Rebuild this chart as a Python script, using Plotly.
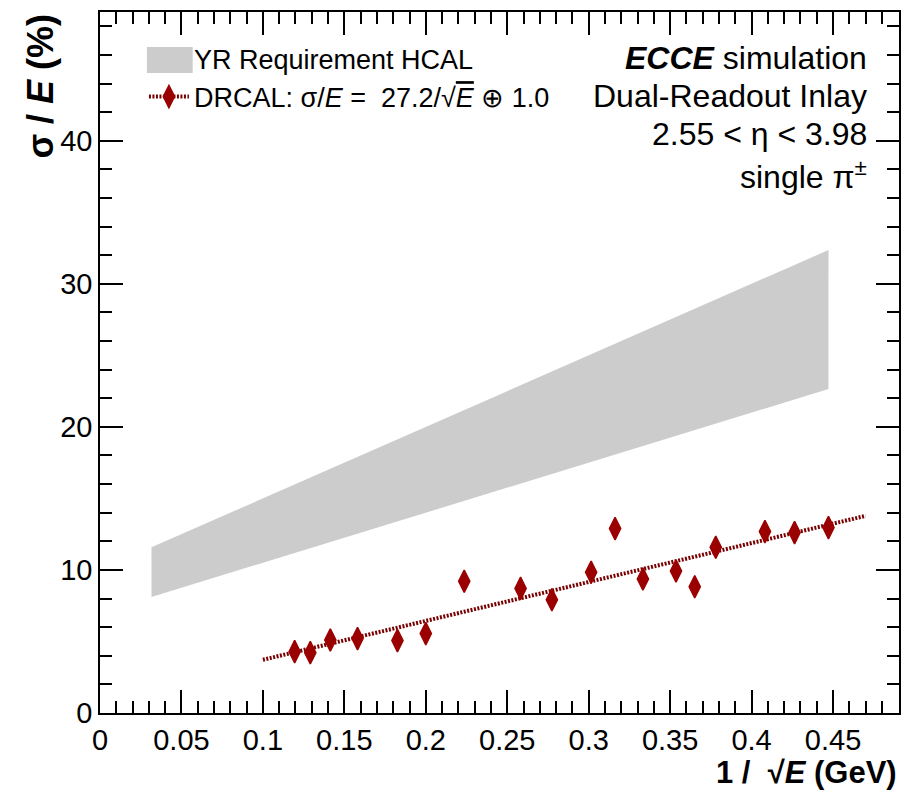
import plotly.graph_objects as go

# --- data ---
inv_sqrt_e = [0.1195, 0.1291, 0.1414, 0.1581, 0.1826, 0.2000, 0.2236, 0.2582, 0.2774,
              0.3015, 0.3162, 0.3333, 0.3536, 0.3651, 0.3780, 0.4082, 0.4264, 0.4472]
resolution = [4.29, 4.22, 5.10, 5.20, 5.06, 5.55, 9.21, 8.71, 7.92,
              9.84, 12.89, 9.37, 9.93, 8.83, 11.59, 12.68, 12.61, 12.96]

fit_x = [0.10, 0.47]
fit_y = [3.72, 13.78]

band_x = [0.0316, 0.4472]
band_upper = [11.58, 32.36]
band_lower = [8.11, 22.65]

x_tickvals = [0, 0.05, 0.1, 0.15, 0.2, 0.25, 0.3, 0.35, 0.4, 0.45]
x_ticktext = ["0", "0.05", "0.1", "0.15", "0.2", "0.25", "0.3", "0.35", "0.4", "0.45"]
y_tickvals = [0, 10, 20, 30, 40]
y_ticktext = ["0", "10", "20", "30", "40"]

FONT = "Liberation Sans, Arial, Helvetica, sans-serif"
RED = "#9b0000"
LINE_RED = "#7a0000"
BAND = "#cccccc"
SQRT_E = "√<span style='text-decoration:overline'><i>E</i></span>"

fig = go.Figure()

# YR requirement band
fig.add_trace(go.Scatter(
    x=band_x + band_x[::-1],
    y=band_upper + band_lower[::-1],
    fill="toself", mode="lines",
    line=dict(width=0, color=BAND),
    fillcolor=BAND,
    name="YR Requirement HCAL",
))

# fit line
fig.add_trace(go.Scatter(
    x=fit_x, y=fit_y, mode="lines",
    line=dict(color=LINE_RED, width=4, dash="2px,1.5px"),
    showlegend=False,
))

# data points
fig.add_trace(go.Scatter(
    x=inv_sqrt_e, y=resolution, mode="markers",
    marker=dict(symbol="diamond-tall", size=16, color=RED,
                line=dict(color=RED, width=1.5)),
    showlegend=False,
))

# legend entry for DRCAL (line + marker)
fig.add_trace(go.Scatter(
    x=[None], y=[None], mode="lines+markers",
    line=dict(color=LINE_RED, width=4, dash="2px,1.5px"),
    marker=dict(symbol="diamond-tall", size=16, color=RED,
                line=dict(color=RED, width=1.5)),
    name="DRCAL: σ/<i>E</i> =  27.2/" + SQRT_E + " ⊕ 1.0",
))

axis_common = dict(
    showline=True, linecolor="black", linewidth=1.5, mirror="allticks",
    ticks="inside", tickcolor="black", tickwidth=1.5, ticklen=23,
    showgrid=False, zeroline=False,
)

fig.update_xaxes(
    range=[0, 0.4905], tickvals=x_tickvals, ticktext=x_ticktext,
    tickfont=dict(family=FONT, size=29, color="black"),
    minor=dict(ticks="inside", ticklen=12, dtick=0.01, tickcolor="black", tickwidth=1.5, showgrid=False),
    **axis_common,
)
fig.update_yaxes(
    range=[0, 49.0], tickvals=y_tickvals, ticktext=y_ticktext,
    tickfont=dict(family=FONT, size=29, color="black"),
    minor=dict(ticks="inside", ticklen=12, dtick=2, tickcolor="black", tickwidth=1.5, showgrid=False),
    **axis_common,
)

annotations = [
    dict(text="<b>1 /  √<i>E</i> (GeV)</b>", x=1.0, y=-0.1125, xanchor="right", yanchor="bottom",
         font=dict(size=31)),
    dict(text="<b>σ / <i>E</i> (%)</b>", x=-0.075, y=1.0, xanchor="center", yanchor="top",
         textangle=-90, font=dict(size=36)),
    dict(text="<b><i>ECCE</i></b> simulation", x=0.962, y=0.934, xanchor="right", yanchor="middle",
         font=dict(size=32)),
    dict(text="Dual-Readout Inlay", x=0.962, y=0.880, xanchor="right", yanchor="middle",
         font=dict(size=32)),
    dict(text="2.55 < η < 3.98", x=0.962, y=0.826, xanchor="right", yanchor="middle",
         font=dict(size=32)),
    dict(text="single π<sup>±</sup>", x=0.962, y=0.768, xanchor="right", yanchor="middle",
         font=dict(size=32)),
]
for a in annotations:
    a.update(xref="paper", yref="paper", showarrow=False)
    a["font"].update(family=FONT, color="black")

fig.update_layout(
    width=910, height=793,
    margin=dict(l=100, r=9, t=12, b=80),
    paper_bgcolor="white", plot_bgcolor="white",
    font=dict(family=FONT, color="black"),
    annotations=annotations,
    # legend swatch box for the band entry
    shapes=[dict(type="rect", xref="paper", yref="paper",
                 x0=0.0587, x1=0.116, y0=0.913, y1=0.950,
                 fillcolor=BAND, line=dict(width=0), layer="above")],
    legend=dict(
        x=0.055, y=0.968, xanchor="left", yanchor="top",
        bgcolor="rgba(0,0,0,0)", font=dict(family=FONT, size=27, color="black"),
        tracegroupgap=0, itemwidth=40,
    ),
)

fig.write_html("out.html")
